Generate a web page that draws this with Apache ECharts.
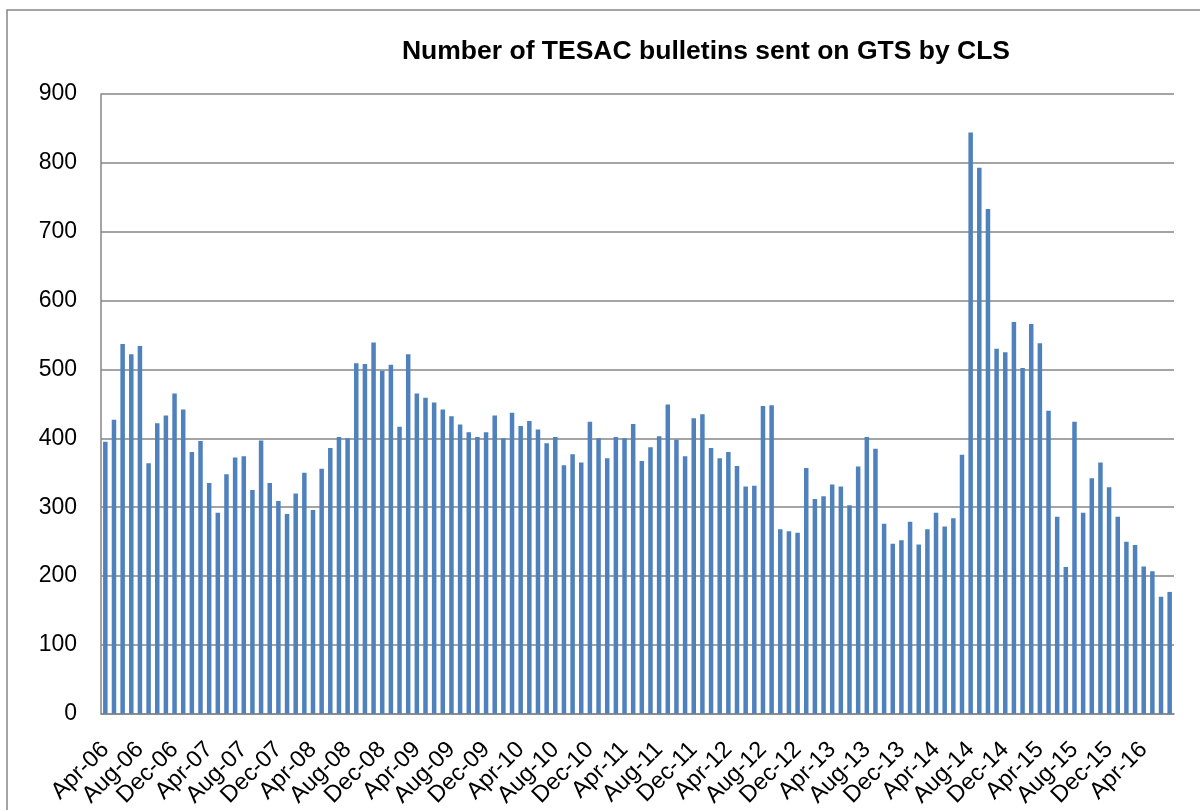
<!DOCTYPE html>
<html>
<head>
<meta charset="utf-8">
<title>Number of TESAC bulletins sent on GTS by CLS</title>
<script src="https://cdn.jsdelivr.net/npm/echarts@6/dist/echarts.min.js"></script>
<style>
  html, body { margin: 0; padding: 0; background: #ffffff; }
  #chart { width: 1200px; height: 810px; }
</style>
</head>
<body>
<div id="chart"></div>
<script>
// Monthly categories, April 2006 to July 2016
const months = [
  'Apr-06','May-06','Jun-06','Jul-06','Aug-06','Sep-06','Oct-06','Nov-06','Dec-06','Jan-07','Feb-07','Mar-07',
  'Apr-07','May-07','Jun-07','Jul-07','Aug-07','Sep-07','Oct-07','Nov-07','Dec-07','Jan-08','Feb-08','Mar-08',
  'Apr-08','May-08','Jun-08','Jul-08','Aug-08','Sep-08','Oct-08','Nov-08','Dec-08','Jan-09','Feb-09','Mar-09',
  'Apr-09','May-09','Jun-09','Jul-09','Aug-09','Sep-09','Oct-09','Nov-09','Dec-09','Jan-10','Feb-10','Mar-10',
  'Apr-10','May-10','Jun-10','Jul-10','Aug-10','Sep-10','Oct-10','Nov-10','Dec-10','Jan-11','Feb-11','Mar-11',
  'Apr-11','May-11','Jun-11','Jul-11','Aug-11','Sep-11','Oct-11','Nov-11','Dec-11','Jan-12','Feb-12','Mar-12',
  'Apr-12','May-12','Jun-12','Jul-12','Aug-12','Sep-12','Oct-12','Nov-12','Dec-12','Jan-13','Feb-13','Mar-13',
  'Apr-13','May-13','Jun-13','Jul-13','Aug-13','Sep-13','Oct-13','Nov-13','Dec-13','Jan-14','Feb-14','Mar-14',
  'Apr-14','May-14','Jun-14','Jul-14','Aug-14','Sep-14','Oct-14','Nov-14','Dec-14','Jan-15','Feb-15','Mar-15',
  'Apr-15','May-15','Jun-15','Jul-15','Aug-15','Sep-15','Oct-15','Nov-15','Dec-15','Jan-16','Feb-16','Mar-16',
  'Apr-16','May-16','Jun-16','Jul-16'
];

// Number of TESAC bulletins per month
const bulletins = [
  395, 427, 537, 522, 534, 364, 422, 433, 465, 442, 380, 396,
  335, 292, 348, 372, 374, 325, 397, 335, 309, 290, 320, 350,
  296, 356, 386, 402, 400, 509, 508, 539, 498, 507, 417, 522,
  465, 459, 452, 442, 432, 420, 409, 402, 409, 433, 400, 437,
  418, 425, 413, 393, 402, 361, 377, 365, 424, 400, 371, 402,
  400, 421, 367, 387, 403, 449, 398, 374, 429, 435, 386, 371,
  380, 360, 330, 331, 447, 448, 268, 265, 263, 357, 312, 316,
  333, 330, 303, 359, 402, 385, 276, 247, 252, 279, 246, 268,
  292, 272, 284, 376, 844, 793, 733, 530, 525, 569, 502, 566,
  538, 440, 286, 213, 424, 292, 342, 365, 329, 286, 250, 245,
  214, 207, 170, 177
];

// Value axis ticks
const yTicks = [0, 100, 200, 300, 400, 500, 600, 700, 800, 900];

const titleText = 'Number of TESAC bulletins sent on GTS by CLS';
const font = '"Liberation Sans", Arial, sans-serif';
const lineGray = '#868686';

const chart = echarts.init(document.getElementById('chart'), null, { renderer: 'canvas' });

chart.setOption({
  backgroundColor: '#ffffff',
  animation: false,
  title: {
    text: titleText,
    left: 701,
    top: 33,
    textAlign: 'center',
    textStyle: { fontFamily: font, fontWeight: 'bold', fontSize: 26.5, color: '#000000' }
  },
  graphic: [{
    type: 'rect',
    shape: { x: 7, y: 10, width: 1210, height: 820 },
    style: { fill: 'none', stroke: lineGray, lineWidth: 1.5 },
    silent: true,
    z: -1
  }],
  grid: { left: 101, right: 26, top: 94, bottom: 96, containLabel: false },
  xAxis: {
    type: 'category',
    data: months,
    boundaryGap: true,
    axisLine: { show: true, lineStyle: { color: lineGray, width: 1.5 } },
    axisTick: { show: false },
    axisLabel: {
      interval: 3,
      rotate: 45,
      margin: 32,
      fontFamily: font,
      fontSize: 23.5,
      color: '#000000'
    },
    splitLine: { show: false }
  },
  yAxis: {
    type: 'value',
    min: yTicks[0],
    max: yTicks[yTicks.length - 1],
    interval: yTicks[1] - yTicks[0],
    axisLine: { show: true, lineStyle: { color: lineGray, width: 1.5 } },
    axisTick: { show: false },
    axisLabel: {
      margin: 24,
      fontFamily: font,
      fontSize: 23,
      color: '#000000'
    },
    splitLine: { show: true, lineStyle: { color: lineGray, width: 1.5 } }
  },
  series: [{
    type: 'bar',
    data: bulletins,
    barWidth: '52%',
    itemStyle: { color: '#4F81BD' }
  }]
});
</script>
</body>
</html>
